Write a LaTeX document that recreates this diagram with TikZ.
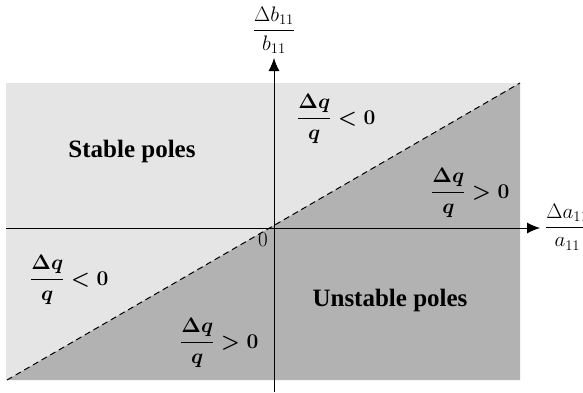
\documentclass[tikz,border=0pt]{standalone}
\usepackage{fix-cm}
\usepackage{amsmath}
\usepackage[no-math]{fontspec}
\setmainfont{Liberation Serif}
\usetikzlibrary{arrows.meta}
\definecolor{lightreg}{gray}{0.9}
\definecolor{darkreg}{gray}{0.7}
\begin{document}
\begin{tikzpicture}[x=1pt,y=-1pt,
  axisline/.style={line width=0.9pt, -{Latex[length=13pt,width=11pt]}},
  border/.style={line width=1pt, dash pattern=on 6pt off 4pt},
  regionlbl/.style={font=\fontsize{25}{30}\selectfont\bfseries, inner sep=0pt},
  qlbl/.style={font=\fontsize{21}{25}\selectfont\boldmath, inner sep=0pt, anchor=west},
  axlbl/.style={font=\fontsize{21}{25}\selectfont, inner sep=0pt}]
\clip (0,0) rectangle (583,392);
\coordinate (TL) at (6,83);
\coordinate (BR) at (520,380);
\coordinate (BL) at (7,380);
\coordinate (TR) at (520,83);
\coordinate (xs) at (6,228);
\coordinate (xe) at (540,228);
\coordinate (ys) at (274,392);
\coordinate (ye) at (274,58);
\fill[lightreg] (TL) rectangle (BR);
\fill[darkreg] (BL) -- (TR) -- (BR) -- cycle;
\draw[border] (BL) -- (TR);
\draw[axisline] (xs) -- (xe);
\draw[axisline] (ys) -- (ye);
\node[axlbl] (ylab) at (274,30) {$\dfrac{\Delta b_{11}}{b_{11}}$};
\node[axlbl, anchor=west] (xlab) at (545,227) {$\dfrac{\Delta a_{11}}{a_{11}}$};
\node[axlbl] (zero) at (263,240) {$0$};
\node[regionlbl] (stable) at (132,151) {Stable poles};
\node[regionlbl] (unstable) at (390,300) {Unstable poles};
\node[qlbl] (q1) at (297,119) {$\dfrac{\Delta q}{q}<0$};
\node[qlbl] (q2) at (431,193) {$\dfrac{\Delta q}{q}>0$};
\node[qlbl] (q3) at (30,280) {$\dfrac{\Delta q}{q}<0$};
\node[qlbl] (q4) at (180,343) {$\dfrac{\Delta q}{q}>0$};
\end{tikzpicture}
\end{document}
